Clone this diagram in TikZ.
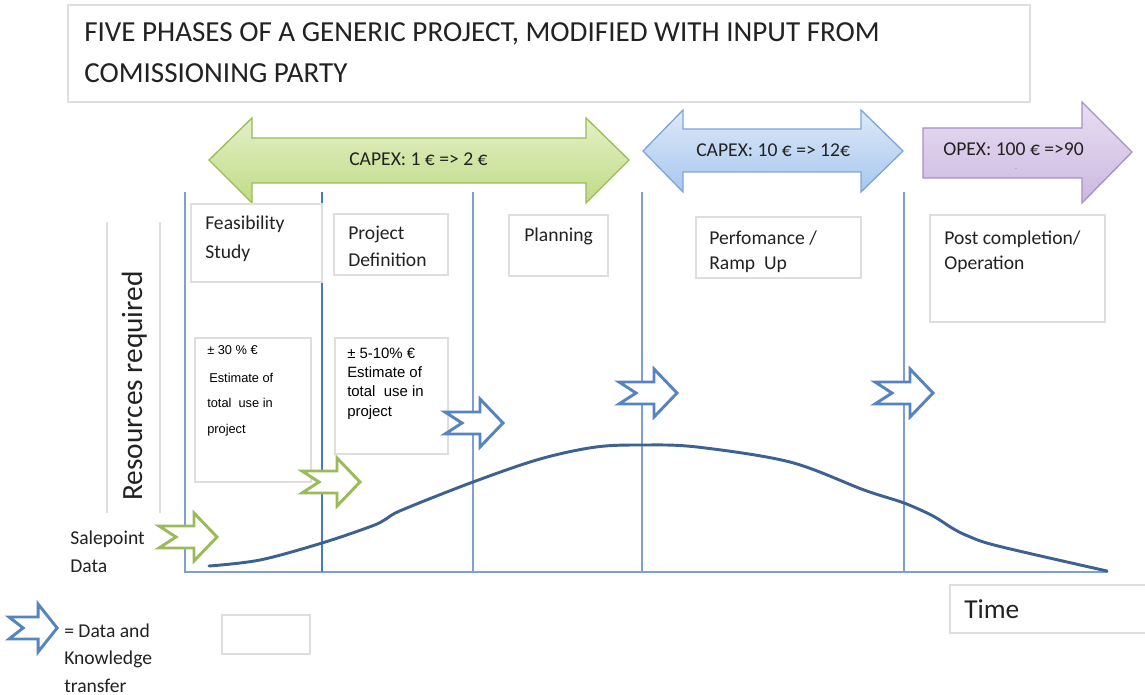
\documentclass[tikz,border=0pt]{standalone}
\usepackage{fontspec}
\setmainfont{Carlito}
\newfontfamily\arialfont{Liberation Sans}
\usetikzlibrary{shadings}

\definecolor{gridblue}{HTML}{7F9FD3}
\definecolor{deepblue}{HTML}{4A78C2}
\definecolor{curveblue}{HTML}{3D6190}
\definecolor{boxgray}{HTML}{DEDEDE}
\definecolor{txt}{HTML}{222222}
\definecolor{grnline}{HTML}{9BBB59}
\definecolor{grntop}{HTML}{E4F0C6}
\definecolor{grnbot}{HTML}{BFDB86}
\definecolor{bluline}{HTML}{7EA6DA}
\definecolor{blutop}{HTML}{DDE9F8}
\definecolor{blubot}{HTML}{A8C7EE}
\definecolor{purline}{HTML}{A690C8}
\definecolor{purtop}{HTML}{E8DEF2}
\definecolor{purbot}{HTML}{CBB8E0}
\definecolor{arrowblue}{HTML}{5584C0}

\tikzset{
  lbl/.style={anchor=base west, inner sep=0pt, text=txt, font=\fontsize{14.7}{17}\selectfont},
  big/.style={anchor=base west, inner sep=0pt, text=txt, font=\fontsize{21.8}{25}\selectfont},
  estsmall/.style={anchor=base west, inner sep=0pt, text=black, font=\arialfont\fontsize{9.6}{11}\selectfont},
  estlarge/.style={anchor=base west, inner sep=0pt, text=black, font=\arialfont\fontsize{11.2}{13}\selectfont},
  graybox/.style={draw=boxgray, line width=0.85pt},
  phaseline/.style={draw=gridblue, line width=1pt},
  transfer/.style={line width=2.2pt, line join=miter},
  notcharrow/.pic={
    \draw[pic actions] (0,-11) -- (35,-11) -- (35,-24) -- (58,0) -- (35,24)
      -- (35,11) -- (0,11) -- (17,0) -- cycle;
  }
}

\begin{document}
\begin{tikzpicture}[x=0.75pt,y=-0.75pt]
\useasboundingbox (0,0) rectangle (1145,695);
\fill[white] (0,0) rectangle (1145,695);

% heading
\draw[graybox] (68,5) rectangle (1030,102);
\node[big] (title1) at (84,42) {FIVE PHASES OF A GENERIC PROJECT, MODIFIED WITH INPUT FROM};
\node[big] (title2) at (84,83) {COMISSIONING PARTY};

% cost arrows
\draw[draw=grnline, line width=1pt, top color=grntop, bottom color=grnbot]
  (209,160) -- (252,118) -- (252,138) -- (586,138) -- (586,118) -- (629,160)
  -- (586,203) -- (586,183) -- (252,183) -- (252,203) -- cycle;
\node[lbl] (capex1) at (349,166) {CAPEX: 1 € => 2 €};

\draw[draw=bluline, line width=1pt, top color=blutop, bottom color=blubot]
  (643,151) -- (683,110) -- (683,129) -- (861,129) -- (861,110) -- (903,151)
  -- (861,192) -- (861,172) -- (683,172) -- (683,192) -- cycle;
\node[lbl] (capex2) at (696,157) {CAPEX: 10 € => 12€};

\draw[draw=purline, line width=1pt, top color=purtop, bottom color=purbot]
  (923,128) -- (1082,128) -- (1082,102) -- (1132,152) -- (1082,203)
  -- (1082,178) -- (923,178) -- cycle;
\node[lbl] (opex) at (943,156) {OPEX: 100 € =>90};
\node[anchor=center, inner sep=0pt, text=gray!70, font=\fontsize{7}{8}\selectfont] (opexdash) at (1016,170) {-};

% axis label frame
\draw[draw=boxgray, line width=0.85pt] (107,222) -- (107,513);
\draw[draw=boxgray, line width=0.85pt] (160,222) -- (160,513);
\node[anchor=base, inner sep=0pt, text=txt, rotate=90, font=\fontsize{22}{26}\selectfont] (resources) at (142,386) {Resources required};

% phase boundaries and time axis
\draw[phaseline] (185,192) -- (185,572) -- (1108,572);
\draw[draw=deepblue, line width=1pt] (322,192) -- (322,572);
\draw[phaseline] (473,192) -- (473,572);
\draw[phaseline] (642,192) -- (642,572);
\draw[phaseline] (904,192) -- (904,572);

% phase boxes
\draw[graybox, fill=white] (191,204) rectangle (322,282);
\node[lbl] (feas1) at (205,230) {Feasibility};
\node[lbl] (feas2) at (205,258) {Study};

\draw[graybox] (334,214) rectangle (448,275);
\node[lbl] (def1) at (348,240) {Project};
\node[lbl] (def2) at (348,267) {Definition};

\draw[graybox] (509,215) rectangle (608,276);
\node[lbl] (plan) at (524,242) {Planning};

\draw[graybox] (696,217) rectangle (861,278);
\node[lbl] (perf1) at (709,244) {Perfomance /};
\node[lbl] (perf2) at (709,270) {Ramp\ \ Up};

\draw[graybox] (930,215) rectangle (1105,322);
\node[lbl] (post1) at (944,244) {Post completion/};
\node[lbl] (post2) at (944,270) {Operation};

% estimate boxes
\draw[graybox] (195,338) rectangle (311,482);
\node[estsmall] (est1a) at (207,354) {± 30 \% €};
\node[estsmall] (est1b) at (209,382) {Estimate of};
\node[estsmall] (est1c) at (207,407) {total\ \ use in};
\node[estsmall] (est1d) at (207,433) {project};

\draw[graybox] (335,338) rectangle (448,454);
\node[estlarge] (est2a) at (347,358) {± 5-10\% €};
\node[estlarge] (est2b) at (347,377) {Estimate of};
\node[estlarge] (est2c) at (347,396) {total\ \ use in};
\node[estlarge] (est2d) at (347,416) {project};

% resource curve
\draw[curveblue, line width=2.2pt, line cap=round]
  plot[smooth, tension=0.55] coordinates {
    (209,566) (260,560) (322,543) (372,526) (386,519) (402,510)
    (473,482) (540,459) (596,447) (643,445) (697,447) (790,462)
    (864,490) (904,503) (933,516) (952,528) (968,536) (998,546) (1107,571)};

% data and knowledge transfer arrows
\pic[draw=grnline, fill=white, transfer] (salepointarrow) at (159,537) {notcharrow};
\pic[draw=grnline, fill=white, transfer] (feasarrow) at (302,482) {notcharrow};
\pic[draw=arrowblue, fill=white, transfer] (defarrow) at (445,423) {notcharrow};
\pic[draw=arrowblue, fill=white, transfer] (planarrow) at (619,393) {notcharrow};
\pic[draw=arrowblue, fill=white, transfer] (perfarrow) at (875,393) {notcharrow};

\node[lbl] (sale1) at (70,544) {Salepoint};
\node[lbl] (sale2) at (70,572) {Data};

% legend
\pic[draw=arrowblue, fill=white, transfer, xscale=0.83] (legendarrow) at (9,628) {notcharrow};
\node[lbl] (leg1) at (64,637) {= Data and};
\node[lbl] (leg2) at (64,664) {Knowledge};
\node[lbl] (leg3) at (64,692) {transfer};
\draw[graybox] (222,615) rectangle (310,654);

% time label
\draw[graybox] (950,585) rectangle (1160,633);
\node[anchor=base west, inner sep=0pt, text=txt, font=\fontsize{20.5}{24}\selectfont] (time) at (964,618) {Time};
\end{tikzpicture}
\end{document}
